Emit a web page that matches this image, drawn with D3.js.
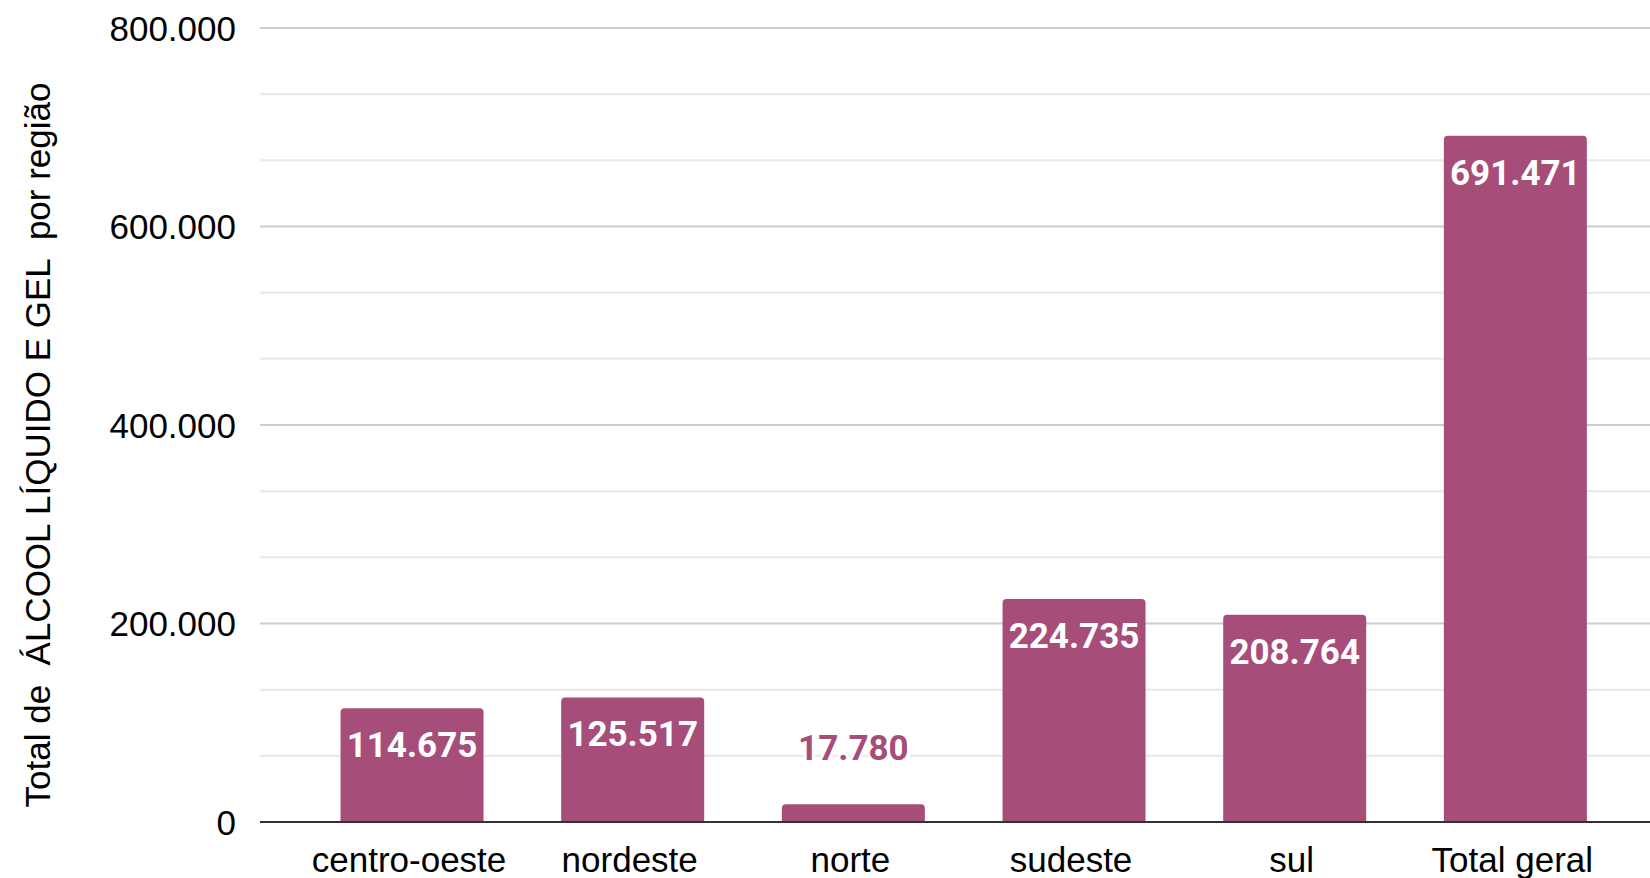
<!DOCTYPE html>
<html>
<head>
<meta charset="utf-8">
<script src="https://cdn.jsdelivr.net/npm/d3@7"></script>
<style>
  html, body { margin: 0; padding: 0; background: #fff; overflow: hidden; }
  svg { display: block; }
</style>
</head>
<body>
<svg id="chart" width="1650" height="878"></svg>
<script>
const categories = ["centro-oeste", "nordeste", "norte", "sudeste", "sul", "Total geral"];
const values = [114675, 125517, 17780, 224735, 208764, 691471];
const majorTicks = [0, 200000, 400000, 600000, 800000];
const tickLabels = ["0", "200.000", "400.000", "600.000", "800.000"];
const dataLabels = ["114.675", "125.517", "17.780", "224.735", "208.764", "691.471"];
const yTitle = "Total de  ÁLCOOL LÍQUIDO E GEL  por região";

const barColor = "#a64d79";
const svg = d3.select("#chart");

const gridLeft = 260, gridRight = 1650;
const y = d3.scaleLinear().domain([0, 800000]).range([822, 28]);
const x = d3.scaleBand().domain(categories).range([301.7, 1625.7])
  .paddingInner(0.352).paddingOuter(0.176);

// minor gridlines
const minorTicks = d3.range(0, 800001, 200000 / 3).filter(v => !majorTicks.some(m => Math.abs(m - v) < 1));
svg.append("g").selectAll("line").data(minorTicks).join("line")
  .attr("x1", gridLeft).attr("x2", gridRight)
  .attr("y1", d => y(d)).attr("y2", d => y(d))
  .attr("stroke", "#e8e8e8").attr("stroke-width", 2);

// major gridlines
svg.append("g").selectAll("line").data(majorTicks.filter(d => d > 0)).join("line")
  .attr("x1", gridLeft).attr("x2", gridRight)
  .attr("y1", d => y(d)).attr("y2", d => y(d))
  .attr("stroke", "#cccccc").attr("stroke-width", 2);

// y tick labels
svg.append("g").selectAll("text").data(majorTicks).join("text")
  .attr("x", 236).attr("y", d => y(d)).attr("dy", "0.36em")
  .attr("text-anchor", "end")
  .attr("font-family", "'Liberation Sans', Arial, sans-serif")
  .attr("font-size", 35).attr("fill", "#000")
  .text((d, i) => tickLabels[i]);

// y title
svg.append("text")
  .attr("transform", "translate(50,445) rotate(-90)")
  .attr("text-anchor", "middle")
  .attr("font-family", "'Liberation Sans', Arial, sans-serif")
  .attr("font-size", 35).attr("fill", "#000")
  .style("white-space", "pre")
  .text(yTitle);

// bars with rounded top corners
const r = 4;
function barPath(d, i) {
  const x0 = x(categories[i]), w = x.bandwidth();
  const top = y(d), bot = y(0);
  return `M${x0},${bot}V${top + r}Q${x0},${top} ${x0 + r},${top}H${x0 + w - r}Q${x0 + w},${top} ${x0 + w},${top + r}V${bot}Z`;
}
svg.append("g").selectAll("path").data(values).join("path")
  .attr("d", barPath)
  .attr("fill", barColor);

// baseline
svg.append("line")
  .attr("x1", gridLeft).attr("x2", gridRight)
  .attr("y1", y(0)).attr("y2", y(0))
  .attr("stroke", "#333").attr("stroke-width", 2);

// data labels
const labG = svg.append("g");
values.forEach((v, i) => {
  const cx = x(categories[i]) + x.bandwidth() / 2;
  const inside = (y(0) - y(v)) > 60;
  const t = labG.append("text")
    .attr("x", cx)
    .attr("y", inside ? y(v) + 49 : y(v) - 44)
    .attr("text-anchor", "middle")
    .attr("font-family", "Roboto, sans-serif")
    .attr("font-weight", "bold")
    .attr("font-size", 35)
    .text(dataLabels[i]);
  if (inside) {
    t.attr("fill", "#fff");
  } else {
    t.attr("fill", barColor)
      .attr("stroke", "#fff").attr("stroke-width", 6)
      .attr("paint-order", "stroke").attr("stroke-linejoin", "round");
  }
});

// x labels
svg.append("g").selectAll("text").data(categories).join("text")
  .attr("x", d => x(d) + x.bandwidth() / 2 - 3)
  .attr("y", 872)
  .attr("text-anchor", "middle")
  .attr("font-family", "'Liberation Sans', Arial, sans-serif")
  .attr("font-size", 35).attr("fill", "#000")
  .text(d => d);
</script>
</body>
</html>
